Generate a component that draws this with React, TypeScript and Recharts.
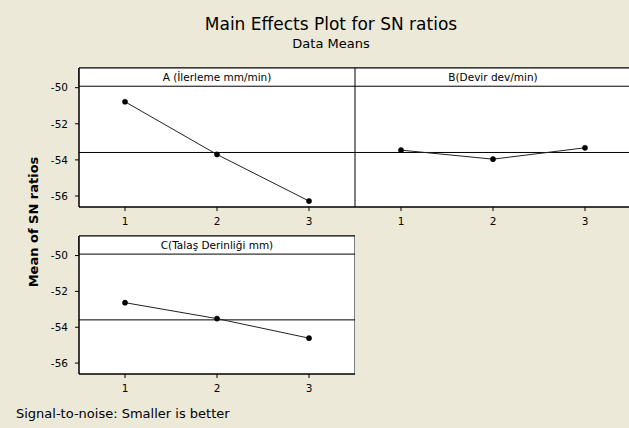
import React from 'react';
import { LineChart, Line, XAxis, YAxis, ReferenceArea, ReferenceLine } from 'recharts';

const levels = [1, 2, 3];
const factorA = [-50.78, -53.7, -56.28];
const factorB = [-53.46, -53.96, -53.33];
const factorC = [-52.63, -53.52, -54.61];
const overallMean = -53.59;
const yTicks = [-56, -54, -52, -50];
const xTicks = [1, 2, 3];
const panelTitles = ['A (İlerleme mm/min)', 'B(Devir dev/min)', 'C(Talaş Derinliği mm)'];

const Y_MIN = -56.61;
const Y_MAX = -48.91;
const HEADER_BOTTOM = -49.92;
const FONT = '"DejaVu Sans", Tahoma, sans-serif';
const BG = '#ECE9D8';

const toRows = (vals: number[]) => levels.map((l, i) => ({ level: l, sn: vals[i] }));

type PanelProps = {
  values: number[];
  title: string;
  showY: boolean;
  width: number;
  height: number;
  top: number;
};

function Panel({ values, title, showY, width, height, top }: PanelProps) {
  const data = toRows(values);
  const tickStyle = { fontSize: 10.5, fill: '#000', fontFamily: FONT };
  return (
    <LineChart width={width} height={height} data={data} margin={{ top, right: 0, bottom: 0, left: 0 }}>
      <ReferenceArea y1={Y_MIN} y2={Y_MAX} fill="#fff" fillOpacity={1} stroke="#000" strokeWidth={1} ifOverflow="visible" />
      <XAxis
        dataKey="level"
        type="number"
        domain={[0.5, 3.5]}
        ticks={xTicks}
        height={25}
        tickSize={4}
        tickMargin={7}
        axisLine={{ stroke: '#000' }}
        tickLine={{ stroke: '#000' }}
        tick={tickStyle}
        allowDataOverflow
      />
      <YAxis
        type="number"
        domain={[Y_MIN, Y_MAX]}
        ticks={yTicks}
        width={79}
        hide={!showY}
        tickSize={4}
        tickMargin={7}
        axisLine={{ stroke: '#000' }}
        tickLine={{ stroke: '#000' }}
        tick={tickStyle}
        allowDataOverflow
      />
      <ReferenceArea
        y1={HEADER_BOTTOM}
        y2={Y_MAX}
        fill="#fff"
        fillOpacity={1}
        stroke="#000"
        strokeWidth={1}
        ifOverflow="visible"
        label={{ value: title, position: 'center', fontSize: 10.5, fill: '#000', fontFamily: FONT }}
      />
      <ReferenceLine y={overallMean} stroke="#000" strokeWidth={1} />
      <Line
        type="linear"
        dataKey="sn"
        stroke="#222"
        strokeWidth={1}
        dot={{ r: 2.6, fill: '#000', stroke: '#000', strokeWidth: 0.5 }}
        isAnimationActive={false}
      />
    </LineChart>
  );
}

export default function App() {
  return (
    <div
      style={{
        position: 'absolute',
        left: 0,
        top: 0,
        width: 629,
        height: 428,
        overflow: 'hidden',
        background: BG,
      }}
    >
      <svg width={629} height={428} style={{ position: 'absolute', left: 0, top: 0 }}>
        <text x={331} y={30} textAnchor="middle" fontFamily={FONT} fontSize={17} fill="#000">
          Main Effects Plot for SN ratios
        </text>
        <text x={331} y={47.5} textAnchor="middle" fontFamily={FONT} fontSize={13} fill="#000">
          Data Means
        </text>
        <text
          x={0}
          y={0}
          transform="translate(38,222) rotate(-90)"
          textAnchor="middle"
          fontFamily={FONT}
          fontSize={13}
          fontWeight="bold"
          fill="#000"
        >
          Mean of SN ratios
        </text>
        <text x={16} y={418} fontFamily={FONT} fontSize={13} fill="#000">
          Signal-to-noise: Smaller is better
        </text>
      </svg>
      <div style={{ position: 'absolute', left: 0, top: 0 }}>
        <Panel values={factorA} title={panelTitles[0]} showY width={355} height={232} top={68} />
      </div>
      <div style={{ position: 'absolute', left: 355, top: 0 }}>
        <Panel values={factorB} title={panelTitles[1]} showY={false} width={276} height={232} top={68} />
      </div>
      <div style={{ position: 'absolute', left: 0, top: 200 }}>
        <Panel values={factorC} title={panelTitles[2]} showY width={355} height={199} top={36} />
      </div>
    </div>
  );
}
